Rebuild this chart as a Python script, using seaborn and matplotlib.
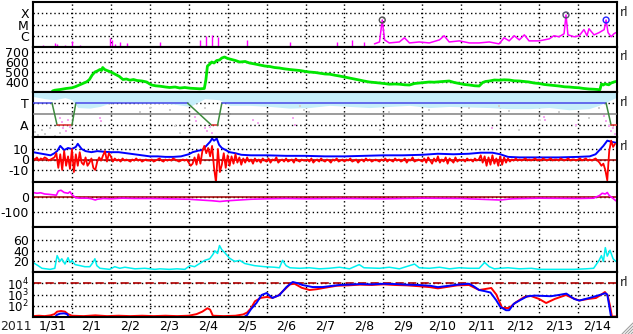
import numpy as np
import pandas as pd
import matplotlib
matplotlib.use("Agg")
import matplotlib.pyplot as plt
import seaborn as sns
from matplotlib.lines import Line2D
from matplotlib.ticker import NullLocator

# ---------------- data (x in days since 2011-01-31 00:00 UT) ----------------
day_labels = ['1/31', '2/1', '2/2', '2/3', '2/4', '2/5', '2/6', '2/7', '2/8',
              '2/9', '2/10', '2/11', '2/12', '2/13', '2/14']

# X-ray flux (W/m^2): isolated bursts in first half, continuous later
xray_bar_day = [0.05, 0.26, 0.44, 0.56, 0.62, 0.74, 0.82, 1.0, 1.21, 1.51, 1.97, 2.03, 2.1,
                2.23, 2.41, 3.26, 4.3, 4.45, 4.6, 4.75, 5.5, 6.6, 7.8, 8.2, 8.5]
xray_bar_flux = [1.2e-7, 1.5e-7, 1.2e-7, 2.3e-7, 1.9e-7, 1.2e-7, 1.5e-7, 3.5e-7, 1.5e-7, 1.2e-7,
                 6.6e-7, 4.3e-7, 1.9e-7, 2.8e-7, 2.3e-7, 2.8e-7, 4e-7, 1e-6, 1.2e-6, 8e-7,
                 4e-7, 3e-7, 3e-7, 4e-7, 3e-7]
xray_day = [8.77, 8.9, 8.97, 9.03, 9.15, 9.41, 9.54, 9.67, 9.92, 10.18, 10.44, 10.56, 10.69,
            10.95, 11.21, 11.46, 11.72, 11.97, 12.1, 12.23, 12.36, 12.49, 12.62, 12.74, 13.0,
            13.26, 13.38, 13.51, 13.64, 13.69, 13.74, 13.9, 14.03, 14.15, 14.23, 14.28, 14.41,
            14.54, 14.67, 14.72, 14.77, 14.85, 14.92, 14.97]
xray_flux = [1.9e-7, 2.8e-7, 2.5e-5, 4.3e-7, 2.3e-7, 2.8e-7, 6.6e-7, 2.3e-7, 2.8e-7, 2.3e-7,
             4.3e-7, 1.0e-6, 2.8e-7, 3.5e-7, 2.3e-7, 2.3e-7, 2.8e-7, 1.9e-7, 6.6e-7, 3.5e-7,
             1.0e-6, 4.3e-7, 1.2e-6, 3.5e-7, 3.5e-7, 5.3e-7, 1.0e-6, 8.1e-7, 1.5e-6, 7.0e-5,
             1.2e-6, 8.1e-7, 1.0e-6, 3.5e-6, 1.0e-6, 4.2e-6, 1.2e-6, 1.9e-6, 3.5e-6, 2.5e-5,
             1.9e-6, 8.1e-7, 1.5e-6, 1.9e-6]
flare_day = [8.97, 13.69, 14.72]
flare_flux = [2.5e-5, 7.0e-5, 2.5e-5]
flare_color = ['#505050', '#505070', '#2020ff']

# Solar wind speed (km/s)
speed_day = [0.50, 0.56, 0.70, 0.85, 1.00, 1.10, 1.20, 1.30, 1.38, 1.45, 1.52, 1.59, 1.65, 1.72,
             1.76, 1.79, 1.84, 1.90, 1.97, 2.05, 2.15, 2.22, 2.31, 2.40, 2.49, 2.58, 2.67, 2.80,
             2.92, 3.00, 3.05, 3.15, 3.26, 3.40, 3.51, 3.65, 3.77, 3.90, 4.03, 4.15, 4.28, 4.40,
             4.44, 4.48, 4.53, 4.59, 4.65, 4.72, 4.79, 4.85, 4.92, 5.00, 5.10, 5.20, 5.31, 5.45,
             5.56, 5.70, 5.82, 5.95, 6.08, 6.20, 6.33, 6.45, 6.59, 6.72, 6.85, 7.00, 7.10, 7.25,
             7.36, 7.50, 7.62, 7.75, 7.87, 8.00, 8.13, 8.25, 8.38, 8.50, 8.64, 8.78, 8.90, 9.02,
             9.15, 9.30, 9.41, 9.55, 9.67, 9.80, 9.92, 10.05, 10.18, 10.30, 10.44, 10.55, 10.69,
             10.82, 10.95, 11.08, 11.21, 11.35, 11.46, 11.55, 11.62, 11.72, 11.85, 11.97, 12.10,
             12.23, 12.36, 12.49, 12.62, 12.74, 12.87, 13.00, 13.13, 13.26, 13.40, 13.51, 13.65,
             13.77, 13.90, 14.03, 14.15, 14.28, 14.40, 14.50, 14.56, 14.60, 14.65, 14.69, 14.75,
             14.79, 14.85, 14.92, 14.97]
speed_val = [310, 318, 325, 335, 342, 355, 372, 390, 402, 425, 470, 500, 510, 525,
             515, 545, 525, 515, 505, 490, 470, 455, 425, 430, 418, 425, 415, 410,
             400, 380, 370, 362, 358, 350, 345, 350, 340, 345, 338, 335, 332, 335,
             420, 560, 575, 600, 590, 615, 620, 640, 650, 635, 625, 615, 600, 605,
             590, 580, 570, 560, 555, 545, 540, 532, 525, 520, 515, 505, 500, 495,
             488, 480, 478, 468, 460, 450, 440, 430, 420, 410, 400, 395, 390, 385,
             378, 380, 378, 372, 370, 385, 390, 395, 400, 398, 402, 405, 410,
             395, 385, 375, 370, 362, 360, 395, 405, 410, 420, 418, 422,
             420, 412, 410, 405, 400, 390, 385, 375, 370, 365, 360, 352,
             350, 345, 342, 335, 330, 328, 325, 322, 380, 370, 382, 375,
             372, 390, 400, 405]

# IMF polarity (T = +1, A = -1) and phi-angle scatter
pol_day = [0.0, 0.49, 0.62, 1.0, 1.10, 3.97, 4.59, 4.74, 4.85, 14.72, 14.85, 15.0]
pol_val = [1, 1, -1, -1, 1, 1, -1, -1, 1, 1, -1, -1]
pol_seg_color = ['#4848e8', '#3c8a3c', '#e03030', '#3c8a3c', '#4848e8', '#3c8a3c',
                 '#e03030', '#3c8a3c', '#4848e8', '#3c8a3c', '#e03030']
phi_band_day = [0.0, 0.31, 0.56, 0.82, 1.0, 1.15, 1.46, 1.72, 1.97, 2.36, 2.74, 3.26, 3.64,
                4.03, 4.41, 4.79, 5.05, 5.56, 6.08, 6.59, 7.1, 7.62, 8.13, 8.64, 9.15, 9.67,
                10.18, 10.69, 11.21, 11.72, 12.23, 12.74, 13.26, 13.77, 14.28, 14.54, 14.79, 14.97]
phi_band_low = [1.6, 1.4, 1.3, 1.5, 1.3, 0.6, 0.55, 0.7, 1.0, 1.1, 1.0, 1.0, 0.9,
                0.7, 1.4, 1.3, 0.8, 0.8, 0.7, 0.55, 0.6, 0.8, 0.7, 0.6, 0.7, 0.8,
                0.6, 0.7, 0.65, 0.6, 0.5, 0.5, 0.6, 0.4, 0.5, 0.8, 1.2, 1.5]
pink_day = [0.69, 0.74, 0.77, 0.82, 0.85, 0.90, 0.95, 1.72, 1.74, 4.15, 4.18, 4.41, 4.46, 4.54,
            4.59, 5.64, 5.77, 6.67, 6.74, 11.79, 13.13, 13.15, 13.95, 14.67, 14.72, 14.79,
            14.85, 14.9, 14.95]
pink_val = [-0.36, -0.73, -1.27, -1.0, -1.55, -0.55, -1.18, -0.36, -0.64, -0.27, -0.64, -1.27,
            -1.55, -1.18, -1.73, -0.55, -0.82, -0.36, -1.0, -1.27, -0.27, -0.55, -1.0, -0.18,
            -0.64, -1.09, -1.55, -1.27, -1.82]
gray_day = [0.05, 0.13, 0.23, 0.31, 0.44, 0.56, 0.69, 2.74, 3.0, 3.51, 3.64, 3.77, 4.03, 4.41,
            5.05, 6.85, 6.97, 7.1, 8.9, 9.15, 10.18, 11.21, 11.97, 12.23, 12.49, 13.0, 13.51,
            14.28, 14.54]
gray_val = [-1.64, -1.9, -1.45, -1.82, -1.27, -2.0, -1.73, 0.18, 0.55, 0.36, -1.09, -1.73,
            -1.45, 0.55, 0.0, 0.73, 0.36, 0.18, -1.45, 0.18, 0.36, 0.55, 0.73, 0.27, -1.45,
            -0.55, 0.18, -0.36, 0.55]

# IMF Bt (nT)
bt_day = [0.0, 0.15, 0.30, 0.45, 0.55, 0.62, 0.70, 0.80, 0.90, 1.0, 1.10, 1.15, 1.25, 1.35,
          1.50, 1.65, 1.80, 2.0, 2.2, 2.4, 2.6, 2.8, 3.0, 3.2, 3.4, 3.6, 3.8, 4.0, 4.1, 4.25,
          4.35, 4.45, 4.55, 4.60, 4.65, 4.72, 4.78, 4.85, 4.95, 5.05, 5.2, 5.35, 5.6, 6.0,
          6.5, 7.0, 7.5, 8.0, 8.5, 9.0, 9.5, 10.0, 10.4, 10.8, 11.2, 11.5, 11.8, 12.0, 12.2,
          12.5, 13.0, 13.5, 14.0, 14.3, 14.45, 14.55, 14.65, 14.75, 14.85, 14.97]
bt_val = [7, 6, 5, 4, 6, 8, 13, 9, 11, 10, 12, 15, 10, 8,
          7, 8, 7.5, 7, 7, 6, 5, 4, 3, 3, 2.5, 2.5, 3, 5, 7, 8.5,
          9, 13, 17, 20, 18, 20, 14, 11, 9, 7, 6, 4.5, 4, 4,
          3.5, 3.5, 3, 3, 3.5, 4, 4, 4.5, 5.5, 5, 5.5, 6.5, 6.5, 5, 2.5,
          2, 2, 2, 2.5, 3, 5, 9, 13, 18, 17, 16]
# IMF Bz (nT), every 0.05 day
bz_val = [1, 0, 2, -1, 1, 0, 2, 1, -1, 0, 1, 2, 6, -8, 5, -10, 8, -6, 3, -9,
          10, -12, 5, -6, 7, -3, -5, 2, -6, -3, 1, -8, -10, -2, 2, -1, 4, 8, -2, 6,
          3, -2, 1, -1, 0, -2, 1, -1, 0, -1, -2, 0, -1, 1, -1, 0, -2, -1, 0, -1,
          -1, 0, -2, -1, 0, 1, -1, -2, 0, -1, 0, -1, 1, 0, -1, -2, -1, 0, -1, 0,
          -3, -6, -4, 2, -5, 5, -4, 8, 13, 6, 11, 3, 13, -8, -22, 10, -12, -5, 6, -8,
          4, -6, 3, -4, 5, -3, 2, -5, 1, -3, 2, -2, 0, -4, 1, -2, 0, -3, 1, -1,
          -2, 1, -3, 0, -1, 2, -3, -1, 0, -2, 1, -2, -1, 0, -3, 1, -1, -2, 0, -1,
          -1, 0, -2, 1, -3, -1, 0, -2, 1, -1, -2, 0, -1, -3, 0, -1, 1, -2, -1, 0,
          -2, 0, -1, 1, -2, -1, 0, -3, -1, 0, -2, 1, -1, 0, -2, -1, 0, -1, -2, 0,
          -1, 1, -2, 0, -1, -2, 1, -1, 0, -2, -1, 1, -3, 0, -1, 2, -2, -1, 0, -1,
          -2, 1, -3, 2, -1, -4, 1, -2, 3, -3, 0, -2, 2, -4, 1, -1, -3, 2, -2, 0,
          -1, 0, -2, 1, -1, 0, -2, 1, -1, 0, 4, -3, 3, -6, 2, -5, 4, -4, 1, -6,
          3, -5, 2, -3, 1, -2, 0, -1, 1, -1, 0, -1, 0, 1, -1, 0, -1, 0, 1, -1,
          0, -1, 1, 0, -1, 0, 1, -1, 0, 0, -1, 1, 0, -1, 0, 1, -1, 0, 0, -1,
          0, 1, -1, 0, 1, -1, 0, -1, 0, 1, -1, -3, -6, -4, -10, -20, 8, 18, 12, 15]

# Panel 5 (magenta) near zero
p5_day = [0.0, 0.1, 0.2, 0.3, 0.4, 0.5, 0.6, 0.65, 0.72, 0.8, 0.9, 0.95, 1.0, 1.05, 1.1, 1.2,
          1.4, 1.5, 1.6, 1.65, 1.8, 2.0, 2.3, 2.6, 3.0, 3.5, 4.0, 4.3, 4.6, 4.8, 5.0, 5.3, 5.6,
          6.0, 6.5, 7.0, 8.0, 9.0, 10.0, 11.0, 11.5, 12.0, 12.3, 13.0, 14.0, 14.4, 14.55,
          14.62, 14.7, 14.75, 14.8, 14.9, 14.97]
p5_val = [30, 25, 28, 20, 18, 15, 12, 40, 45, 30, 25, 35, 15, 5, -5, -8,
          -8, -12, -20, -15, -10, -12, -8, -10, -10, -12, -15, -20, -25, -30, -25, -20, -15,
          -12, -10, -12, -10, -12, -8, -10, -15, -20, -12, -8, -10, -8, 10,
          25, 20, 30, 10, -10, -25]

# Panel 6 (cyan) density
dens_day = [0.0, 0.13, 0.23, 0.44, 0.56, 0.62, 0.69, 0.74, 0.82, 0.9, 0.95, 1.0, 1.08, 1.21,
            1.33, 1.46, 1.54, 1.59, 1.64, 1.72, 1.97, 2.1, 2.23, 2.36, 2.62, 2.87, 3.13, 3.26,
            3.5, 3.7, 3.9, 4.03, 4.15, 4.28, 4.41, 4.54, 4.62, 4.67, 4.74, 4.79, 4.85, 4.92,
            5.05, 5.18, 5.31, 5.44, 5.69, 5.95, 6.2, 6.33, 6.41, 6.5, 6.6, 6.85, 7.1, 7.36,
            7.6, 7.87, 8.13, 8.38, 8.5, 8.9, 9.15, 9.41, 9.67, 9.8, 9.92, 10.18, 10.44, 10.7,
            10.95, 11.21, 11.46, 11.6, 11.72, 11.85, 12.0, 12.2, 12.5, 12.8, 13.0, 13.3, 13.6,
            13.9, 14.2, 14.4, 14.54, 14.6, 14.65, 14.7, 14.75, 14.82, 14.9, 14.97]
dens_val = [18, 12, 7, 5, 7, 31, 20, 25, 15, 27, 18, 22, 14, 12,
            10, 10, 18, 25, 12, 7, 5, 10, 7, 9, 6, 7, 5, 6,
            5, 6, 5, 12, 10, 16, 22, 25, 33, 40, 35, 50, 42, 37,
            26, 20, 22, 16, 12, 10, 9, 8, 22, 12, 8, 7, 8, 6,
            7, 9, 6, 14, 8, 7, 9, 6, 12, 15, 8, 7, 9, 6,
            8, 7, 7, 18, 10, 6, 7, 8, 6, 7, 5, 5, 5,
            5, 6, 7, 22, 31, 20, 46, 30, 41, 25, 20]

# Panel 7 particle flux
ef_red_day = [0.0, 0.15, 0.3, 0.45, 0.55, 0.62, 0.72, 0.82, 0.9, 1.0, 1.3, 1.6, 1.9, 2.2, 2.5,
              2.8, 3.1, 3.4, 3.7, 4.0, 4.2, 4.35, 4.48, 4.55, 4.62, 4.9, 5.2, 5.4, 5.5, 5.6, 5.7,
              5.85, 6.0, 6.15, 6.3, 6.45, 6.6, 6.72, 6.9, 7.1, 7.3, 7.5, 7.8, 8.1, 8.4, 8.7, 9.0,
              9.3, 9.6, 9.9, 10.2, 10.4, 10.6, 10.9, 11.2, 11.46, 11.6, 11.77, 11.9, 12.05,
              12.23, 12.4, 12.62, 12.79, 13.0, 13.18, 13.4, 13.69, 13.85, 14.03, 14.25, 14.46,
              14.6, 14.69, 14.76, 14.82, 14.87, 15.0]
ef_red_val = [12, 13, 12, 14, 18, 30, 34, 30, 18, 13, 12, 14, 12, 13, 12,
              13, 12, 13, 12, 13, 18, 30, 60, 45, 13, 12, 13, 17, 25, 60, 250,
              500, 600, 500, 800, 2500, 8000, 9000, 4000, 2500, 3000, 4000, 6000, 6500, 7500,
              7000, 8000, 7000, 6500, 5500, 4500, 3500, 4500, 6500, 7000, 2500, 3000, 3800,
              1000, 63, 63, 200, 600, 740, 400, 175, 400, 900, 500, 290, 400, 490,
              1000, 1660, 800, 100, 11, 11]
ef_blue_day = [0.0, 0.55, 0.62, 0.7, 0.8, 0.88, 0.92, 5.4, 5.5, 5.6, 5.74, 5.87, 6.0, 6.15,
               6.33, 6.51, 6.67, 6.8, 6.92, 7.18, 7.44, 7.87, 8.1, 8.4, 8.7, 9.0, 9.3, 9.6,
               9.9, 10.2, 10.4, 10.6, 10.9, 11.2, 11.3, 11.46, 11.6, 11.75, 11.9, 12.0, 12.15,
               12.23, 12.35, 12.5, 12.7, 12.9, 13.1, 13.3, 13.5, 13.7, 13.9, 14.03, 14.3, 14.55,
               14.7, 14.75, 14.8, 14.85, 15.0]
ef_blue_val = [9, 9, 16, 20, 21, 18, 9, 9, 15, 50, 175, 900, 1350, 490,
               900, 4600, 13000, 10000, 7000, 4600, 4600, 7000, 7500, 8500, 8000, 9000, 8500,
               7500, 7000, 6000, 4500, 5500, 7500, 9000, 6000, 2500, 2000, 1500, 300, 80, 40,
               40, 150, 300, 700, 800, 750, 700, 900, 1200, 400, 290, 500, 900,
               1300, 1000, 100, 9, 9]
ef_threshold = 1e4

# ---------------- figure ----------------
sns.set_theme(style="white")
plt.rcParams['font.family'] = ['DejaVu Sans']
plt.rcParams['mathtext.fontset'] = 'dejavusans'
FS = 9
plt.rcParams['font.size'] = FS

W, H = 633, 334
fig = plt.figure(figsize=(W / 100, H / 100), dpi=100)
fig.patch.set_facecolor('white')
left, right, top0, ph = 33, 617, 2, 45
axes = []
for i in range(7):
    t = top0 + i * ph
    ax = fig.add_axes([left / W, 1 - (t + ph) / H, (right - left) / W, ph / H])
    axes.append(ax)

dot = (0, (1, 2))
for ax in axes:
    ax.set_facecolor('white')
    ax.set_xlim(0, 15)
    ax.set_xticks([i + 0.5 for i in range(15)])
    ax.set_xticks(list(range(1, 15)), minor=True)
    ax.grid(which='minor', axis='x', color='black', linestyle=dot, linewidth=1.0)
    ax.grid(which='major', axis='y', color='black', linestyle=dot, linewidth=1.0)
    ax.grid(which='major', axis='x', visible=False)
    ax.tick_params(which='both', length=0, labelsize=FS, colors='black')
    ax.tick_params(axis='y', pad=3.0)
    ax.tick_params(axis='x', pad=2.0)
    for s in ax.spines.values():
        s.set_color('black')
        s.set_linewidth(1.5)
    ax.set_xticklabels([] if ax is not axes[-1] else day_labels)

lw_kw = dict(sort=False, estimator=None, legend=False)

# Panel 1: X-ray
ax = axes[0]
ax.set_yscale('log')
ax.set_ylim(1e-7, 1e-3)
ax.vlines(xray_bar_day, 1e-7, xray_bar_flux, color='#ff00ff', lw=1.0)
sns.lineplot(x=xray_day, y=xray_flux, ax=ax, color='#ff00ff', lw=1.1, **lw_kw)
ax.scatter(flare_day, flare_flux, s=18, facecolors='none', edgecolors=flare_color,
           linewidths=1.0, zorder=5)
ax.yaxis.set_minor_locator(NullLocator())
ax.set_yticks([1e-4, 1e-5, 1e-6])
ax.set_yticklabels(['X', 'M', 'C'])
ax.grid(which='minor', axis='y', visible=False)

# Panel 2: speed
ax = axes[1]
ax.set_ylim(300, 750)
sns.lineplot(x=speed_day, y=speed_val, ax=ax, color='#00e600', lw=2.0, **lw_kw)
ax.set_yticks([400, 500, 600, 700])

# Panel 3: polarity
ax = axes[2]
ax.set_ylim(-2.05, 2.0)
ax.fill_between(phi_band_day, phi_band_low, 2.0, color='#c6eefa', lw=0, zorder=1)
ax.scatter(gray_day, gray_val, s=2.5, marker='s', color='#cfcfcf', lw=0, zorder=2)
ax.scatter(pink_day, pink_val, s=2.5, marker='s', color='#f4a6f0', lw=0, zorder=2)
ax.axhline(0, color='#808080', lw=1.1, zorder=3)
for i in range(len(pol_day) - 1):
    ax.plot(pol_day[i:i + 2], pol_val[i:i + 2], color=pol_seg_color[i], lw=1.1, zorder=4)
ax.set_yticks([1, -1])
ax.set_yticklabels(['T', 'A'])

# Panel 4: Bz / Bt
ax = axes[3]
ax.set_ylim(-21.5, 21.5)
bz_day = np.arange(len(bz_val)) * 0.05
ax.axhline(0, color='#a00000', lw=1.1, zorder=1)
sns.lineplot(x=bt_day, y=bt_val, ax=ax, color='#0000ff', lw=1.4, **lw_kw)
sns.lineplot(x=bz_day, y=bz_val, ax=ax, color='#ff0000', lw=1.3, **lw_kw)
ax.set_yticks([10, 0, -10])
ax.set_yticklabels(['10', '0', '-10'])

# Panel 5
ax = axes[4]
ax.set_ylim(-200, 100)
ax.axhline(0, color='#a00000', lw=1.1, zorder=1)
sns.lineplot(x=p5_day, y=p5_val, ax=ax, color='#ff00ff', lw=1.2, **lw_kw)
ax.set_yticks([0, -100])
ax.set_yticklabels(['0', '-100'])

# Panel 6
ax = axes[5]
ax.set_ylim(0, 85)
sns.lineplot(x=dens_day, y=dens_val, ax=ax, color='#00f0f0', lw=1.1, **lw_kw)
ax.set_yticks([20, 40, 60])

# Panel 7
ax = axes[6]
ax.set_yscale('log')
ax.set_ylim(10, 1e5)
ax.yaxis.set_minor_locator(NullLocator())
ax.set_yticks([1e2, 1e3, 1e4])
ax.set_yticklabels([r'$10^2$', r'$10^3$', r'$10^4$'], fontsize=8.5)
ax.axhline(ef_threshold, color='#b00000', lw=1.2, ls=(0, (5, 2.5)), zorder=2)
sns.lineplot(x=ef_red_day, y=ef_red_val, ax=ax, color='#ff0000', lw=1.4, **lw_kw)
sns.lineplot(x=ef_blue_day, y=ef_blue_val, ax=ax, color='#0000ff', lw=1.4, **lw_kw)

for ax in axes:
    ax.set_xlabel('')
    ax.set_ylabel('')

fig.text(16 / W, 1 - 326 / H, '2011', ha='center', va='center', fontsize=FS)
for yy in [13, 57, 102, 147, 282]:
    fig.text(620 / W, 1 - yy / H, 'rl', ha='left', va='center', fontsize=FS)
for k in range(4):
    o = 3 * k
    fig.add_artist(Line2D([(622 + o) / W, 633 / W], [0, (11 - o) / H],
                          color='#a0a0a0', lw=0.8, transform=fig.transFigure))

fig.savefig('out.png', dpi=100, facecolor='white')
